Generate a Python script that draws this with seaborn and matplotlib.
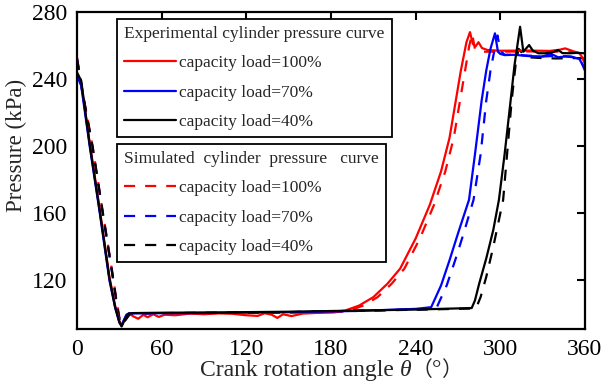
import numpy as np
import pandas as pd
import matplotlib
matplotlib.use("Agg")
import matplotlib.pyplot as plt
import seaborn as sns
from matplotlib.offsetbox import TextArea, HPacker, AnchoredOffsetbox

# ---------------- data ----------------
# Experimental curves (solid)
exp100_theta = [0, 3, 9, 16, 23, 27, 30, 31.6, 33, 35, 37, 40, 43.4, 47, 50, 54, 58, 62, 70, 80, 90, 100,
                110, 120, 128, 133, 138, 142, 146, 152, 160, 170, 180, 190, 200, 210, 220, 229, 240, 250,
                258, 264, 268, 272, 276, 278.5, 280.5, 282.5, 284.5, 287, 291, 300, 320, 335, 342, 346,
                349, 352, 356, 358, 360]
exp100_p = [243, 237, 202, 163, 122, 105, 96, 93, 95.5, 99, 100.3, 98.5, 97.1, 99.5, 98, 99.8, 98.2, 99.5,
            99.2, 100.2, 99.8, 100.3, 100.1, 99.2, 98.8, 100.4, 99.5, 97.6, 99.8, 98.7, 100.2, 100.6, 100.8,
            102, 105, 110, 118, 127, 145, 165, 185, 205, 225, 245, 262, 268, 261, 259.5, 262, 258.5, 257.3,
            256.9, 257, 256.8, 257.5, 258.3, 257.4, 256.5, 255.5, 253, 249]

exp70_theta = [0, 3, 9, 16, 23, 27, 30, 31.6, 33, 35, 37, 40, 60, 100, 150, 200, 240, 251, 258, 264,
               270, 277.8, 282, 286.8, 290, 293, 296.2, 298.3, 300, 303, 310, 320, 330, 336, 341, 346,
               352, 356, 358, 360]
exp70_p = [242, 236, 200, 161, 120, 104, 95, 93, 96, 99.5, 100.4, 100.3, 100.4, 100.6, 101, 101.8, 103,
           104, 117, 132, 148, 168, 195, 227.5, 245, 258, 267.3, 256.3, 255, 254.3, 254.5, 253.7, 253.5,
           255, 253, 253.5, 253, 252, 249, 245]

exp40_theta = [0, 3, 9, 16, 23, 27, 30, 31.6, 33, 35, 36.4, 40, 60, 100, 150, 200, 240, 279.7, 282,
               285, 290, 295, 299, 303, 307, 310, 314, 316.3, 318, 320.4, 323, 327, 332, 337, 341, 344,
               349, 354, 358, 360]
exp40_p = [244, 239, 201, 162, 121, 104, 95, 92.5, 95, 98.5, 100.1, 100.5, 100.7, 100.9, 101.3, 102, 102.6,
           103.5, 108, 118, 133, 150, 168, 195, 225, 248, 271.2, 256.3, 258, 260.3, 257, 255.4, 255.4, 256,
           257.3, 255.5, 255.4, 255.6, 255.5, 255.3]

# Simulated curves (dashed)
sim100_theta = [0, 4, 11, 18, 25, 28, 30, 32, 34, 37, 40, 60, 100, 150, 183, 193, 203, 213, 223, 232,
                243, 253, 261, 267, 271, 275, 278, 280, 282, 285, 290, 320, 350, 356, 358, 360]
sim100_p = [253, 232, 200, 162, 125, 108, 98, 94, 96.5, 99.6, 100.2, 100.3, 100.5, 100.8, 101, 102, 105,
            110, 118, 127, 145, 165, 185, 205, 225, 245, 260, 267, 258, 256.5, 256.3, 256.5, 256.3, 255.5,
            253, 250]

sim70_theta = [0, 4, 11, 18, 25, 28, 30, 32, 34, 37, 40, 60, 100, 150, 200, 250, 255, 262, 268, 274,
               281, 286, 290, 293, 296, 298, 300, 303, 310, 320, 330, 340, 350, 356, 358, 360]
sim70_p = [252, 231, 199, 161, 124, 107, 97, 93.5, 96, 99.5, 100.3, 100.4, 100.6, 101, 101.8, 103, 104,
           117, 132, 148, 168, 195, 227, 245, 258, 266, 257, 254.5, 254.5, 254, 253.5, 253.8, 253.5, 252,
           249, 246]

sim40_theta = [0, 4, 11, 18, 25, 28, 30, 32, 34, 37, 40, 60, 100, 150, 200, 240, 280, 283, 286, 290,
               295, 302, 308, 311, 313, 316, 320, 330, 340, 350, 356, 360]
sim40_p = [252, 232, 200, 162, 124, 107, 97, 93.5, 96, 99.5, 100.3, 100.5, 100.7, 101.1, 101.9, 102.5,
           103.2, 103.8, 110, 122, 140, 168, 227, 250, 258, 255, 253, 252.5, 252.3, 252.5, 252.5, 252.3]

legend_titles = ["Experimental cylinder pressure curve", "Simulated  cylinder  pressure   curve"]
legend_labels = ["capacity load=100%", "capacity load=70%", "capacity load=40%"]
x_ticks = [0, 60, 120, 180, 240, 300, 360]
y_ticks = [120, 160, 200, 240, 280]

# ---------------- style ----------------
sns.set_style("white")
plt.rcParams["font.family"] = ["Liberation Serif", "Noto Sans CJK SC", "DejaVu Sans"]

fig = plt.figure(figsize=(6.11, 3.85), dpi=100)
ax = fig.add_axes([77 / 611, 1 - 329 / 385, 508 / 611, 317 / 385])

colors = ["#ff0000", "#0000ff", "#000000"]
lw = 1.6
dash = (5, 4.5)

sim = [(sim100_theta, sim100_p), (sim70_theta, sim70_p), (sim40_theta, sim40_p)]
exp = [(exp100_theta, exp100_p), (exp70_theta, exp70_p), (exp40_theta, exp40_p)]

sim_handles, exp_handles = [], []
for (t, p), c in zip(sim, colors):
    sns.lineplot(x=t, y=p, ax=ax, color=c, lw=lw, sort=False, estimator=None)
    line = ax.get_lines()[-1]
    line.set_dashes(dash)
    sim_handles.append(line)
for (t, p), c in zip(exp, colors):
    sns.lineplot(x=t, y=p, ax=ax, color=c, lw=lw, sort=False, estimator=None)
    exp_handles.append(ax.get_lines()[-1])

ax.set_xlim(0, 360)
ax.set_ylim(91, 280)
ax.set_xticks(x_ticks)
ax.set_yticks(y_ticks)
ax.tick_params(direction="in", length=6, width=1.5, top=True, right=True,
               labelsize=17, colors="black", pad=7)
for s in ax.spines.values():
    s.set_linewidth(1.6)
    s.set_color("black")

ax.set_ylabel("Pressure (kPa)", fontsize=16.5)
ax.yaxis.set_label_coords(-0.098, 0.58)

# x label with italic theta and full-width parentheses
tp = dict(fontsize=17, family=["Liberation Serif"])
ta1 = TextArea("Crank rotation angle ", textprops=tp)
ta2 = TextArea("θ", textprops=dict(tp, style="italic"))
ta3 = TextArea("（", textprops=dict(fontsize=15, family=["Noto Sans CJK SC"]))
ta4 = TextArea("°", textprops=tp)
ta5 = TextArea("）", textprops=dict(fontsize=15, family=["Noto Sans CJK SC"]))
box = HPacker(children=[ta1, ta2, ta3, ta4, ta5], align="baseline", pad=0, sep=0)
anch = AnchoredOffsetbox(loc="upper center", child=box, pad=0, frameon=False,
                         bbox_to_anchor=(0.5, -0.095), bbox_transform=ax.transAxes, borderpad=0)
ax.add_artist(anch)

leg_kw = dict(loc="upper left", fontsize=12.5, title_fontsize=12.5, frameon=True, fancybox=False,
              framealpha=1, edgecolor="black", handlelength=3.0, handletextpad=0.15,
              labelspacing=0.75, borderaxespad=0, borderpad=0.42, alignment="left")
leg1 = ax.legend(exp_handles, legend_labels, title=legend_titles[0],
                 bbox_to_anchor=((117 - 77) / 508, 1 - (19 - 12) / 317), **leg_kw)
leg1.get_frame().set_linewidth(1.3)
ax.add_artist(leg1)
leg2 = ax.legend(sim_handles, legend_labels, title=legend_titles[1],
                 bbox_to_anchor=((117 - 77) / 508, 1 - (144 - 12) / 317), **leg_kw)
leg2.get_frame().set_linewidth(1.3)

fig.savefig("out.png", dpi=100)
